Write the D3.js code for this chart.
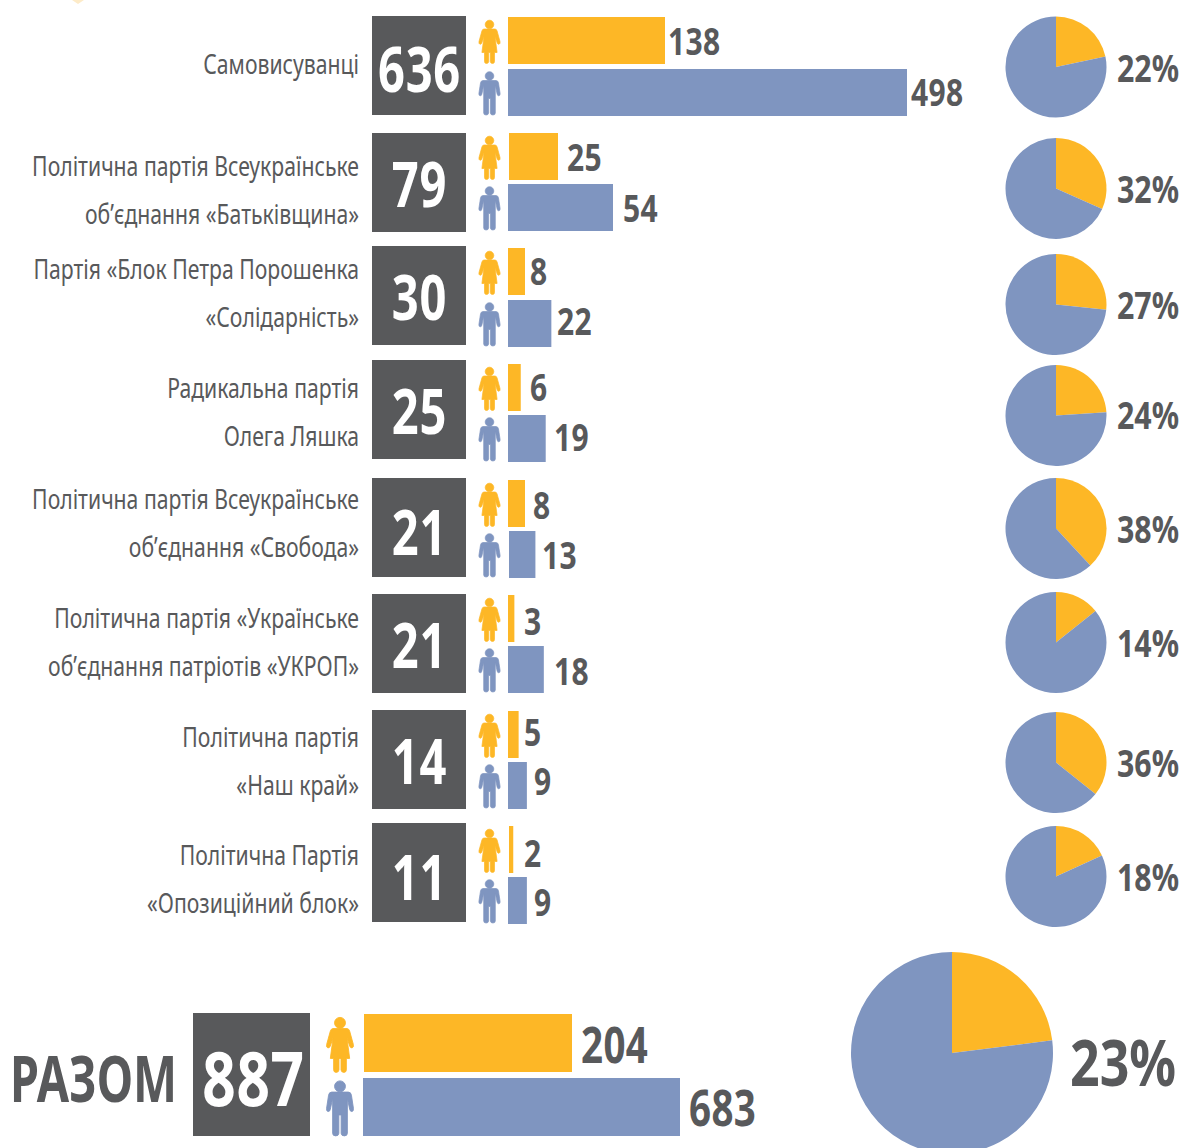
<!DOCTYPE html>
<html><head><meta charset="utf-8">
<script src="https://cdnjs.cloudflare.com/ajax/libs/d3/7.8.5/d3.min.js"></script>
<style>html,body{margin:0;padding:0;background:#fff}svg{display:block}text{font-family:"Noto Sans",sans-serif;fill:#58595B}</style>
</head><body><svg id="c" width="1183" height="1148"></svg>
<script>
// ---- data
const labels=[["Самовисуванці"],["Політична партія Всеукраїнське","об’єднання «Батьківщина»"],["Партія «Блок Петра Порошенка","«Солідарність»"],["Радикальна партія","Олега Ляшка"],["Політична партія Всеукраїнське","об’єднання «Свобода»"],["Політична партія «Українське","об’єднання патріотів «УКРОП»"],["Політична партія","«Наш край»"],["Політична Партія","«Опозиційний блок»"]];
const totals=[636,79,30,25,21,21,14,11];
const female=[138,25,8,6,8,3,5,2];
const male=[498,54,22,19,13,18,9,9];
const percents=["22%","32%","27%","24%","38%","14%","36%","18%"];
const sumTotal=887, sumFemale=204, sumMale=683, sumPercent="23%", sumLabel="РАЗОМ";
// ---- layout
const boxTop=[16,133,246,360,478,594,710,823];
const labelBase=[[74],[176,224],[279,327],[398,446],[509,557],[628,676],[747,795],[865,913]];
const femaleTop=[17,133,248,364,480,595,711,826];
const maleTop=[69,184,300,415,531,646,762,877];
const femaleX=[508,509,508,508,508,508,508,509];
const maleX=[508,508,508,508,509,508,508,508];
const femaleLabelX=[668,567,530,530,533,524,524,524];
const maleLabelX=[911,623,557,554,542,554,534,534];
const femaleLabelY=[42,158,272,388,506,622,733,854];
const maleLabelY=[93,209,322,438,556,672,782,903];
const pieY=[67,188.5,304.5,415.5,528.5,642.5,762.5,876.5];
const pctY=[69,190,306,416,530,644,764,878];
const numY=[70,185,298,412,533,646,762,878];
const YEL="#FDB726",BLU="#7F95C0",DK="#58595B";
const BARH=47;

const svg=d3.select("#c");
const x=d3.scaleLinear().domain([0,8,25,54,138,498]).range([0,17,49,105,157,399]);
const xSum=d3.scaleLinear().domain([0,204,683]).range([0,208,317]);
const pie=d3.pie().sort(null).value(d=>d);

const manPath="M-6.5,9.5H6.5Q8.6,9.5 9,12L10.6,22.5Q10.8,24.6 9.4,24.8Q8,25 7.6,23L5.8,14.5V42Q5.8,44 3.4,44Q1,44 .9,42V27.5H-.9V42Q-1,44 -3.4,44Q-5.8,44 -5.8,42V14.5L-7.6,23Q-8,25 -9.4,24.8Q-10.8,24.6 -10.6,22.5L-9,12Q-8.6,9.5 -6.5,9.5ZM0,0.7A4.3,4.3 0 1 1 0,9.3A4.3,4.3 0 1 1 0,.7Z";
const womanPath="M-5.5,9.5H5.5Q7,9.5 7.6,11.5L10.5,22Q11,24.2 9.6,24.7Q8.3,25 7.6,23.2L5.5,17L7.6,33H5V42Q5,44 3,44Q1,44 .8,42V33H-.8V42Q-1,44 -3,44Q-5,44 -5,42V33H-7.6L-5.5,17L-7.6,23.2Q-8.3,25 -9.6,24.7Q-11,24.2 -10.5,22L-7.6,11.5Q-7,9.5 -5.5,9.5ZM0,0.7A4.3,4.3 0 1 1 0,9.3A4.3,4.3 0 1 1 0,.7Z";

function person(path,color,cx,top,s){svg.append("path").attr("d",path).attr("fill",color).attr("stroke",color).attr("stroke-width",.7).attr("stroke-linejoin","round").attr("transform",`translate(${cx},${top}) scale(${s})`);}
function drawPie(vals,cx,cy,r){
  const arc=d3.arc().innerRadius(0).outerRadius(r);
  svg.append("g").attr("transform",`translate(${cx},${cy})`).selectAll("path").data(pie(vals)).join("path")
    .attr("d",arc).attr("fill",(d,i)=>i?BLU:YEL);
}
function txt(s,xx,yy,size,sx,opt={}){
  return svg.append("text").attr("transform",`translate(${xx},${yy+size*0.357}) scale(${sx},1)`).attr("font-size",size)
    .attr("font-weight","bold").attr("text-anchor",opt.a||"start")
    .attr("letter-spacing",opt.ls||0).style("fill",opt.f||DK).text(s);
}

// faint mark at the top edge of the picture
svg.append("path").attr("d",d3.line()([[72,0],[84,0],[78,4]])).attr("fill","#FDEBC8");

totals.forEach((t,i)=>{
  labels[i].forEach((l,j)=>{
    svg.append("text").attr("transform",`translate(359,${labelBase[i][j]}) scale(.785,1)`).attr("text-anchor","end").attr("font-size",27).text(l);
  });
  svg.append("rect").attr("x",372).attr("y",boxTop[i]).attr("width",94).attr("height",99).attr("fill",DK);
  txt(t,419.5,numY[i],62,.76,{a:"middle",f:"#fff",ls:1});
  person(womanPath,YEL,489.5,femaleTop[i]+2.5,1);
  person(manPath,BLU,489.5,maleTop[i]+2,1);
  svg.append("rect").attr("x",femaleX[i]).attr("y",femaleTop[i]).attr("width",x(female[i])).attr("height",BARH).attr("fill",YEL);
  svg.append("rect").attr("x",maleX[i]).attr("y",maleTop[i]).attr("width",x(male[i])).attr("height",BARH).attr("fill",BLU);
  txt(female[i],femaleLabelX[i],femaleLabelY[i],37,.81,{ls:.5});
  txt(male[i],maleLabelX[i],maleLabelY[i],37,.81,{ls:.5});
  drawPie([female[i],male[i]],1056,pieY[i],50.5);
  txt(percents[i],1117,pctY[i],37,.82);
});

// totals row
txt(sumLabel,10,1079,64,.73);
svg.append("rect").attr("x",193).attr("y",1013).attr("width",117).attr("height",123).attr("fill",DK);
txt(sumTotal,253.5,1079,76,.77,{a:"middle",f:"#fff",ls:1});
person(womanPath,YEL,340,1016.5,1.27);
person(manPath,BLU,340,1080,1.27);
svg.append("rect").attr("x",364).attr("y",1014).attr("width",xSum(sumFemale)).attr("height",58).attr("fill",YEL);
svg.append("rect").attr("x",363).attr("y",1078).attr("width",xSum(sumMale)).attr("height",58).attr("fill",BLU);
txt(sumFemale,581,1045,50,.77,{ls:.5});
txt(sumMale,689,1108,50,.77,{ls:.5});
drawPie([sumFemale,sumMale],952,1053,101);
txt(sumPercent,1070,1063,64,.81);
</script></body></html>
